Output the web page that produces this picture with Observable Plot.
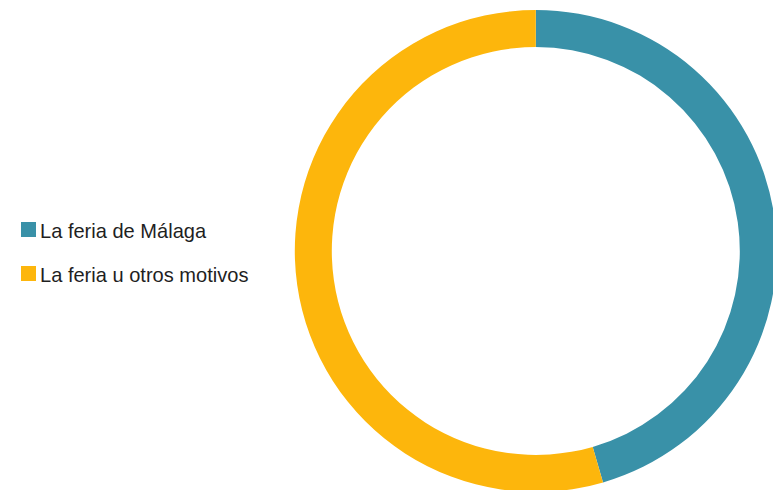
<!DOCTYPE html>
<html>
<head>
<meta charset="utf-8">
<script src="https://cdn.jsdelivr.net/npm/d3@7"></script>
<script src="https://cdn.jsdelivr.net/npm/@observablehq/plot@0.6"></script>
<style>
  html, body { margin: 0; padding: 0; background: #fff; }
  #wrap { position: relative; width: 773px; height: 490px; overflow: hidden; }
  .sw { position: absolute; left: 21px; width: 15px; height: 15px; }
  .lab { position: absolute; left: 40px; font-family: "Liberation Sans", Arial, sans-serif; font-size: 21px; line-height: 21px; color: #1f1f1f; white-space: nowrap; transform: scaleX(0.955); transform-origin: 0 0; }
</style>
</head>
<body>
<div id="wrap"></div>
<script>
const categories = ["La feria de Málaga", "La feria u otros motivos"];
const values = [45.5, 54.5];
const colors = ["#3991A8", "#FDB60C"];

const slices = d3.pie().sort(null).value(d => d.value)(
  categories.map((c, i) => ({category: c, value: values[i]}))
);

const inner = 204 / 241;

const donut = (index, scales, vals, dimensions, context) => {
  const cx = scales.x(0), cy = scales.y(0);
  const r = scales.x(1) - scales.x(0);
  const arc = d3.arc().innerRadius(r * inner).outerRadius(r);
  const g = d3.create("svg:g").attr("transform", `translate(${cx},${cy})`);
  g.selectAll("path").data(slices).join("path")
    .attr("d", arc)
    .attr("fill", d => scales.color(d.data.category));
  return g.node();
};

const chart = Plot.plot({
  width: 773,
  height: 490,
  margin: 0,
  x: {domain: [-1, 1], range: [294.8, 776.8], axis: null},
  y: {domain: [-1, 1], range: [10, 492], axis: null},
  color: {domain: categories, range: colors},
  marks: [
    Plot.dot([[-1, -1, categories[0]], [1, 1, categories[1]]], {x: d => d[0], y: d => d[1], fill: d => d[2], r: 0}),
    donut
  ]
});
const wrap = d3.select("#wrap");
wrap.node().prepend(chart);

const color = chart.scale("color");
categories.forEach((c, i) => {
  const top = 222 + i * 43.5;
  wrap.append("div").attr("class", "sw").style("top", top + "px").style("background", color.apply(c));
  wrap.append("div").attr("class", "lab").style("top", (top - 2) + "px").text(c);
});
</script>
</body>
</html>
